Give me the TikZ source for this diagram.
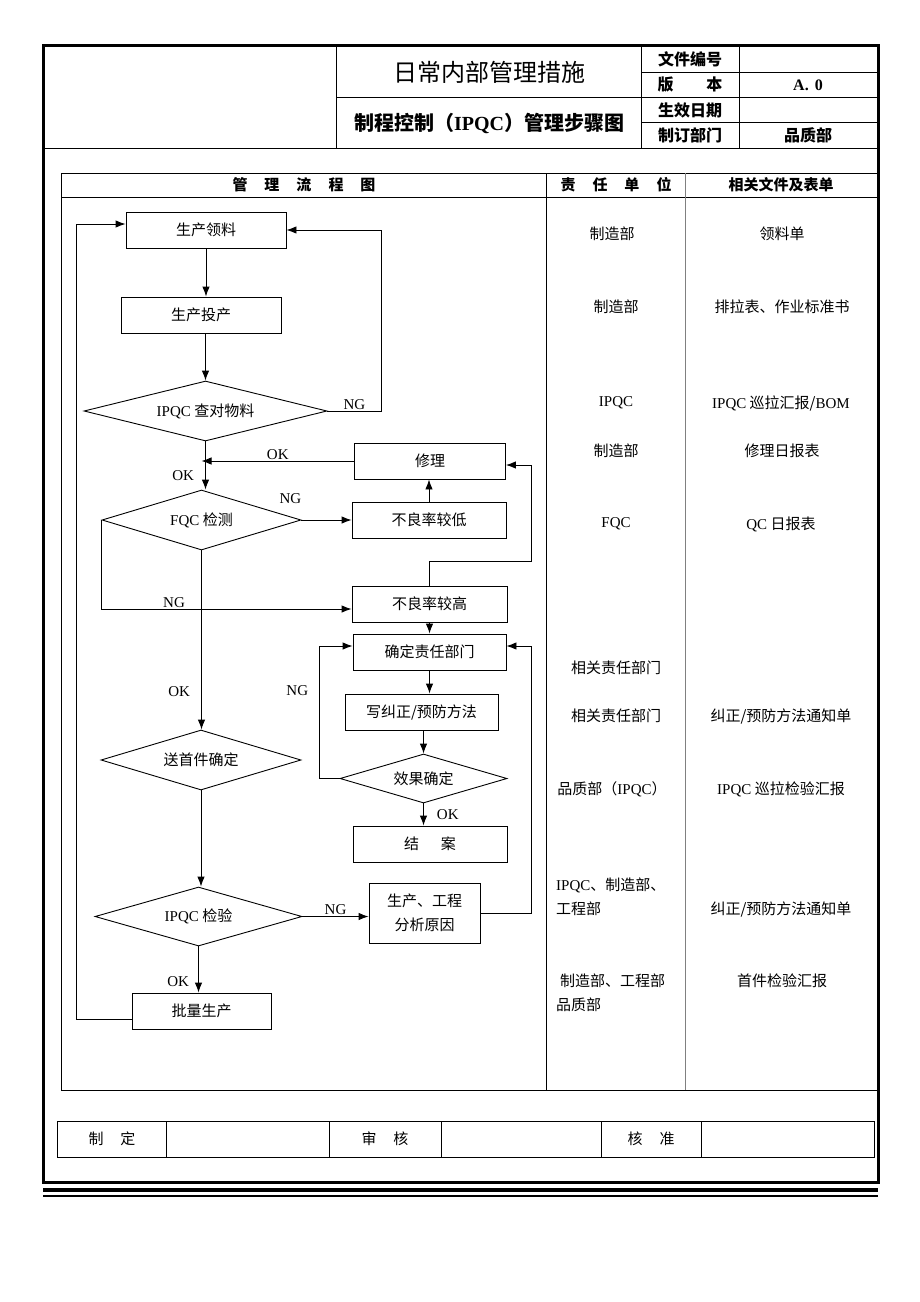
\documentclass[tikz,border=0pt]{standalone}
\usepackage{fontspec}
\setmainfont{Liberation Serif}
\newfontfamily\cjk{Noto Sans CJK SC}
\usetikzlibrary{shapes.geometric}
\usetikzlibrary{arrows.meta}
\newcommand{\eng}[1]{{\rmfamily #1}}
\newcommand{\flowfont}{\cjk\fontsize{15}{24}\selectfont}
\newcommand{\hgap}{\hspace{17pt}}

\begin{document}
\begin{tikzpicture}[x=1pt, y=-1pt]
\tikzset{box/.style = {draw, line width=0.9pt, inner sep=0pt, align=center, font=\flowfont}}
\tikzset{decision/.style = {diamond, draw, line width=0.9pt, inner sep=0pt, aspect=4, font=\flowfont}}
\tikzset{flow/.style = {-{Latex[length=10pt,width=7.5pt]}, line width=0.9pt}}
\tikzset{lbl/.style = {font=\flowfont, inner sep=1pt}}
\tikzset{cell/.style = {font=\flowfont, inner sep=0pt}}
\useasboundingbox (0,0) rectangle (920,1302);
\fill[white] (0,0) rectangle (920,1302);

\draw[line width=3pt] (43,45) rectangle (878,1182);
\draw[line width=1pt] (43,148) -- (878,148);
\draw[line width=1pt] (336,45) -- (336,148) (641,45) -- (641,148) (739,45) -- (739,148);
\draw[line width=1pt] (336,97) -- (878,97) (641,72) -- (878,72) (641,122) -- (878,122);
\node[font=\cjk\fontsize{24}{28}\selectfont](title) at (489,72) {日常内部管理措施};
\node[font=\cjk\bfseries\fontsize{20}{24}\selectfont](subtitle) at (489,123) {制程控制（\eng{IPQC}）管理步骤图};
\node[font=\cjk\bfseries\fontsize{16}{20}\selectfont](fileno) at (690,59) {文件编号};
\node[font=\cjk\bfseries\fontsize{16}{20}\selectfont](version) at (690,85) {版\hspace{33pt}本};
\node[font=\cjk\bfseries\fontsize{16}{20}\selectfont](effdate) at (690,110) {生效日期};
\node[font=\cjk\bfseries\fontsize{16}{20}\selectfont](dept) at (690,135) {制订部门};
\node[font=\bfseries\fontsize{16}{20}\selectfont](versionval) at (808,85) {A.\hspace{6pt}0};
\node[font=\cjk\bfseries\fontsize{16}{20}\selectfont](deptval) at (808,135) {品质部};

\draw[line width=0.8pt] (61,173) rectangle (877,1090);
\draw[line width=0.8pt] (61,197) -- (877,197) (546,173) -- (546,1090);
\draw[line width=0.8pt, gray] (685,173) -- (685,1090);
\node[cell, font=\cjk\bfseries\fontsize{15}{18}\selectfont](colflow) at (304,185) {管\hgap 理\hgap 流\hgap 程\hgap 图};
\node[cell, font=\cjk\bfseries\fontsize{15}{18}\selectfont](colresp) at (616,185) {责\hgap 任\hgap 单\hgap 位};
\node[cell, font=\cjk\bfseries\fontsize{15}{18}\selectfont](coldoc) at (781,185) {相关文件及表单};

\node[box, minimum width=160, minimum height=36](lingliao) at (206,230) {生产领料};
\node[box, minimum width=160, minimum height=36](touchan) at (201,315) {生产投产};
\node[decision, minimum width=243, minimum height=60](chadui) at (205.5,411) {\eng{IPQC} 查对物料};
\node[box, minimum width=151, minimum height=36](xiuli) at (430,461) {修理};
\node[decision, minimum width=199, minimum height=60](fqc) at (201.5,520) {\eng{FQC} 检测};
\node[box, minimum width=154, minimum height=36](dilv) at (429,520) {不良率较低};
\node[box, minimum width=155, minimum height=36](gaolv) at (429.5,604) {不良率较高};
\node[box, minimum width=153, minimum height=36](queding) at (429.5,652) {确定责任部门};
\node[box, minimum width=153, minimum height=36](xiefa) at (421.5,712) {写纠正/预防方法};
\node[decision, minimum width=167, minimum height=49](xiaoguo) at (423.5,778.5) {效果确定};
\node[box, minimum width=154, minimum height=36](jiean) at (430,844) {结\hspace{22pt}案};
\node[decision, minimum width=200, minimum height=60](songshou) at (201,760) {送首件确定};
\node[decision, minimum width=207, minimum height=59](jianyan) at (198.5,916.5) {\eng{IPQC} 检验};
\node[box, minimum width=111, minimum height=60](fenxi) at (424.5,913) {生产、工程\\分析原因};
\node[box, minimum width=139, minimum height=36](piliang) at (201.5,1011) {批量生产};

\draw[flow] (lingliao.south) -- (lingliao.south |- touchan.north);
\draw[flow] (chadui.north |- touchan.south) -- (chadui.north);
\draw[flow] (chadui.east) -- ++(54,0) node[lbl, midway, above] {\eng{NG}} |- (lingliao.east);
\draw[flow] (chadui.south) -- (chadui.south |- fqc.north) node[lbl, pos=0.7, left=10pt] {\eng{OK}};
\draw[flow] (xiuli.west) -- (xiuli.west -| fqc.north) node[lbl, midway, above] {\eng{OK}};
\draw[flow] (fqc.east) -- (dilv.west) node[lbl, pos=0, xshift=-11pt, yshift=21pt] {\eng{NG}};
\draw[flow] (dilv.north) -- (dilv.north |- xiuli.south);
\draw[flow] (fqc.west) |- ([yshift=-5pt]gaolv.west) node[lbl, pos=0.645, above] {\eng{NG}};
\draw[flow] (gaolv.north) -- ++(0,-24) -| ([xshift=25pt, yshift=-4pt]xiuli.east) -- ([yshift=-4pt]xiuli.east);
\draw[flow] (gaolv.south) -- (gaolv.south |- queding.north);
\draw[flow] (queding.south) -- (queding.south |- xiefa.north);
\draw[flow] (xiaoguo.north |- xiefa.south) -- (xiaoguo.north);
\draw[flow] (xiaoguo.west) -- ++(-20,0) |- ([yshift=6pt]queding.west) node[lbl, pos=0.33, left=10pt] {\eng{NG}};
\draw[flow] (xiaoguo.south) -- (xiaoguo.south |- jiean.north) node[lbl, midway, right=12pt] {\eng{OK}};
\draw[flow] (fqc.south) -- (fqc.south |- songshou.north) node[lbl, pos=0.79, left=10pt] {\eng{OK}};
\draw[flow] (songshou.south) -- (songshou.south |- jianyan.north);
\draw[flow] (jianyan.east) -- (jianyan.east -| fenxi.west) node[lbl, midway, above] {\eng{NG}};
\draw[flow] (fenxi.east) -- ++(51,0) |- ([yshift=6pt]queding.east);
\draw[flow] (jianyan.south) -- (jianyan.south |- piliang.north) node[lbl, pos=0.77, left=8pt] {\eng{OK}};
\draw[flow] ([yshift=-8pt]piliang.west) -- ++(-55,0) |- ([yshift=6pt]lingliao.west);

\node[cell](resp1) at (612,234) {制造部};
\node[cell](resp2) at (616,307) {制造部};
\node[cell](resp3) at (616,403) {\eng{IPQC}};
\node[cell](resp4) at (616,451) {制造部};
\node[cell](resp5) at (616,524) {\eng{FQC}};
\node[cell](resp6) at (616,668) {相关责任部门};
\node[cell](resp7) at (616,716) {相关责任部门};
\node[cell](resp8) at (612,789) {品质部（\eng{IPQC}）};
\node[cell, anchor=west, align=left](resp9) at (556,897) {\eng{IPQC}、制造部、\\工程部};
\node[cell, anchor=west, align=left](resp10) at (556,993) {\hspace{4pt}制造部、工程部\\品质部};

\node[cell](doc1) at (782,234) {领料单};
\node[cell](doc2) at (782,307) {排拉表、作业标准书};
\node[cell](doc3) at (781,403) {\eng{IPQC} 巡拉汇报/\eng{BOM}};
\node[cell](doc4) at (782,451) {修理日报表};
\node[cell](doc5) at (781,524) {\eng{QC} 日报表};
\node[cell](doc6) at (781,716) {纠正/预防方法通知单};
\node[cell](doc7) at (781,789) {\eng{IPQC} 巡拉检验汇报};
\node[cell](doc8) at (781,909) {纠正/预防方法通知单};
\node[cell](doc9) at (782,981) {首件检验汇报};

\draw[line width=0.8pt] (57,1121) rectangle (874,1157);
\draw[line width=0.8pt] (166,1121) -- (166,1157) (329,1121) -- (329,1157) (441,1121) -- (441,1157) (601,1121) -- (601,1157) (701,1121) -- (701,1157);
\node[cell](maker) at (112,1139) {制\hgap 定};
\node[cell](checker) at (385,1139) {审\hgap 核};
\node[cell](approver) at (651,1139) {核\hgap 准};

\draw[line width=4pt] (43,1190) -- (878,1190);
\draw[line width=1.2pt] (43,1196) -- (878,1196);
\end{tikzpicture}
\end{document}
